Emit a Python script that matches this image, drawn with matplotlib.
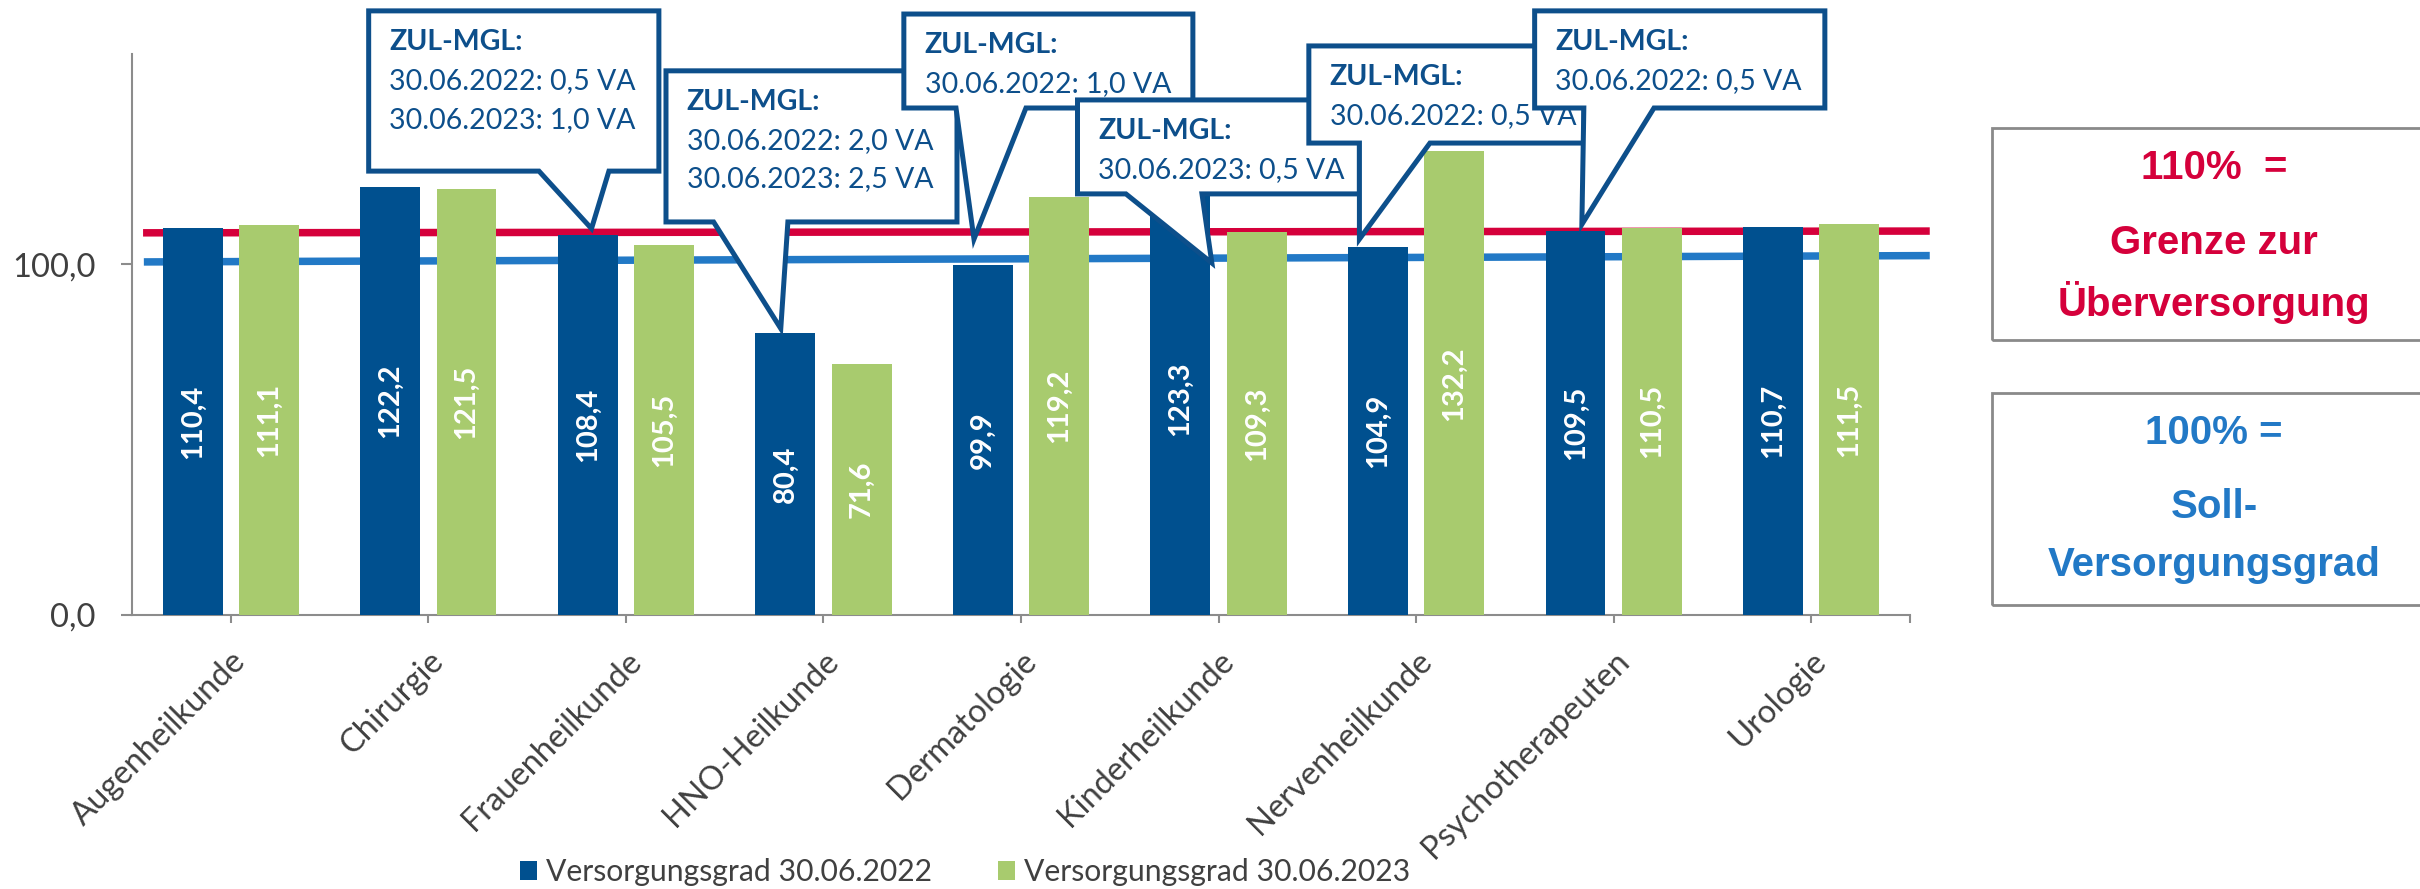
import matplotlib
matplotlib.use("Agg")
import matplotlib.pyplot as plt
import numpy as np
from matplotlib.patches import Polygon, Rectangle

categories = ["Augenheilkunde", "Chirurgie", "Frauenheilkunde", "HNO-Heilkunde",
              "Dermatologie", "Kinderheilkunde", "Nervenheilkunde",
              "Psychotherapeuten", "Urologie"]
grad_2022 = [110.4, 122.2, 108.4, 80.4, 99.9, 123.3, 104.9, 109.5, 110.7]
grad_2023 = [111.1, 121.5, 105.5, 71.6, 119.2, 109.3, 132.2, 110.5, 111.5]
series_labels = ["Versorgungsgrad 30.06.2022", "Versorgungsgrad 30.06.2023"]
yticks = [0, 100]

# hand drawn reference lines in the original (start / end value)
line_110 = [109.0, 109.5]
line_100 = [100.7, 102.5]

callout_texts = [
    ["30.06.2022: 0,5 VA", "30.06.2023: 1,0 VA"],
    ["30.06.2022: 2,0 VA", "30.06.2023: 2,5 VA"],
    ["30.06.2022: 1,0 VA"],
    ["30.06.2023: 0,5 VA"],
    ["30.06.2022: 0,5 VA"],
    ["30.06.2022: 0,5 VA"],
]
# callout shapes: box (x0, x1, top, bottom), pointer base (xa, xb), tip (xt, yt)
callout_shapes = [
    ((0.698, 2.167, 172.3, 126.6), (1.560, 1.914), (1.826, 110.2)),
    ((2.203, 3.676, 155.2, 112.1), (2.444, 2.820), (2.784, 81.7)),
    ((3.407, 4.870, 171.4, 144.6), (3.671, 4.025), (3.762, 107.2)),
    ((4.286, 5.713, 146.9, 120.1), (4.531, 4.916), (4.966, 100.4)),
    ((5.457, 6.850, 162.3, 134.6), (5.713, 6.070), (5.713, 107.2)),
    ((6.600, 8.069, 172.3, 144.6), (6.849, 7.204), (6.839, 111.4)),
]

dark = "#00508f"
green = "#a8cb6e"
red = "#d5003b"
blue = "#2279c6"
callout_col = "#0d4f8b"
txt = "#404040"

plt.rcParams["font.family"] = ["Lato", "DejaVu Sans"]

fig = plt.figure(figsize=(24.2, 8.89), dpi=100)
ax = fig.add_axes([132/2420, 1-615/889, (1910-132)/2420, (615-54)/889])

x = np.arange(len(categories))
w = 0.303
off = 0.193
ax.bar(x - off, grad_2022, w, color=dark, zorder=3, label=series_labels[0])
ax.bar(x + off, grad_2023, w, color=green, zorder=3, label=series_labels[1])

for xs, vals in [(x - off, grad_2022), (x + off, grad_2023)]:
    for xi, v in zip(xs, vals):
        ax.text(xi, v / 2, f"{v:.1f}".replace(".", ","), rotation=90,
                ha="center", va="center", color="white", fontsize=21,
                fontweight="bold", zorder=4)

ax.plot([-0.444, 8.60], line_110, color=red, lw=5.4, zorder=2,
        clip_on=False, solid_capstyle="butt")
ax.plot([-0.44, 8.60], line_100, color=blue, lw=5.4, zorder=2,
        clip_on=False, solid_capstyle="butt")

for k, ((x0, x1, top, bot), (xa, xb), (xt, yt)) in enumerate(callout_shapes):
    pts = [(x0, top), (x1, top), (x1, bot), (xb, bot), (xt, yt), (xa, bot), (x0, bot)]
    poly = Polygon(pts, closed=True, facecolor="white", edgecolor=callout_col,
                   lw=3.6, joinstyle="miter", zorder=10 + k * 2, clip_on=False)
    ax.add_patch(poly)
    lines = ["ZUL-MGL:"] + callout_texts[k]
    for j, s in enumerate(lines):
        ax.text(x0 + 0.105, top - 8.8 - 11.1 * j, s, ha="left", va="center",
                color=callout_col, fontsize=20.5,
                fontweight="bold" if j == 0 else "normal",
                zorder=11 + k * 2, clip_on=False)

ax.set_xlim(-0.5, 8.5)
ax.set_ylim(0, 160)
ax.set_yticks(yticks)
ax.set_yticklabels([f"{t:.1f}".replace(".", ",") for t in yticks],
                   fontsize=23.5, color=txt)
ax.set_xticks(x)
ax.set_xticklabels(categories, rotation=45, ha="right", rotation_mode="anchor",
                   fontsize=23.5, color=txt)
ax.set_xticks([8.5], minor=True)
ax.tick_params(axis="x", which="both", length=6, width=1.5, color="#8c8c8c", pad=16)
ax.tick_params(axis="y", length=8, width=1.5, color="#8c8c8c", pad=18)
for s in ["top", "right"]:
    ax.spines[s].set_visible(False)
for s in ["left", "bottom"]:
    ax.spines[s].set_color("#8c8c8c")
    ax.spines[s].set_linewidth(1.5)

fig.legend(loc="center", bbox_to_anchor=(965/2420, 1-872/889), ncol=2,
           frameon=False, fontsize=21.7, handlelength=0.55, handleheight=0.6,
           handletextpad=0.3, columnspacing=2.2, labelcolor=txt)

# right info boxes
for top, bot, col, lines, ys in [
    (128, 340, red, ["110%  =", "Grenze zur", "Überversorgung"], [168, 243, 302]),
    (393, 605, blue, ["100% =", "Soll-", "Versorgungsgrad"], [433, 507, 565]),
]:
    fig.add_artist(Rectangle((1992/2420, 1-bot/889), 460/2420, (bot-top)/889,
                             transform=fig.transFigure, fill=False,
                             edgecolor="#8a8a8a", lw=2))
    for s, yy in zip(lines, ys):
        fig.text(2214/2420, 1-yy/889, s, ha="center", va="center", color=col,
                 fontsize=29, fontweight="bold", family="Liberation Sans")

fig.savefig("out.png", dpi=100)
